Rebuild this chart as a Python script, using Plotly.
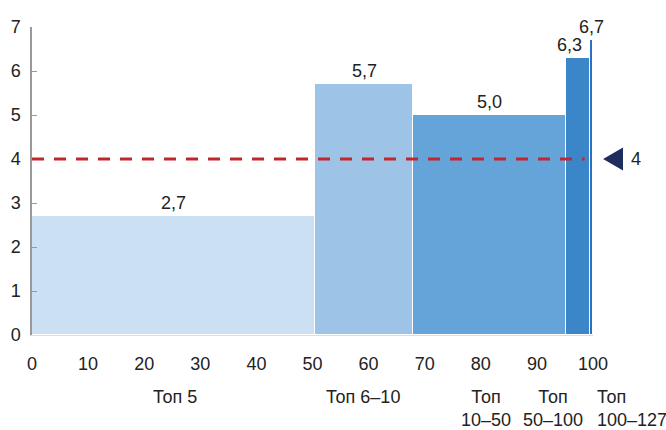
import plotly.graph_objects as go

# Share boundaries on the x axis (cumulative %) and values for each group
edges = [0, 50.4, 68, 95.1, 99.5, 100]
values = [2.7, 5.7, 5.0, 6.3, 6.7]
groups = ["Топ 5", "Топ 6–10", "Топ<br>10–50", "Топ<br>50–100", "Топ<br>100–127"]
group_label_x = [25.5, 59, 81, 92.9, 100.4]
group_label_anchor = ["center", "center", "center", "center", "left"]
value_label_xshift = [0, 0, 0, -8, 0]
colors = ["#cce0f4", "#9dc3e6", "#65a4d9", "#3a86c8", "#2a72bf"]
threshold = 4
x_ticks = [0, 10, 20, 30, 40, 50, 60, 70, 80, 90, 100]
y_ticks = [0, 1, 2, 3, 4, 5, 6, 7]

X_MAX = 100
centers = [(a + b) / 2 for a, b in zip(edges[:-1], edges[1:])]
widths = [b - a for a, b in zip(edges[:-1], edges[1:])]

font_family = "Liberation Sans, Arial, sans-serif"
text_color = "#222222"
label_font = dict(size=18, color=text_color, family=font_family)

fig = go.Figure()
fig.add_trace(go.Bar(
    x=centers, y=values, width=widths,
    marker=dict(color=colors, line=dict(color="white", width=1)),
    hoverinfo="skip",
))

# Value labels above each bar (comma as decimal separator)
for cx, v, dx in zip(centers, values, value_label_xshift):
    fig.add_annotation(x=cx, y=v, text=f"{v:.1f}".replace(".", ","),
                       showarrow=False, xanchor="center", yanchor="bottom",
                       yshift=1, xshift=dx, font=label_font)

# Threshold line
fig.add_shape(type="line", x0=0, x1=98.5, y0=threshold, y1=threshold,
              line=dict(color="#c1272d", width=3, dash="12px,10px"))

# Threshold marker (left-pointing triangle right of the plot) and its label
tip, base, half_h = 1.018, 1.0535, 0.26
fig.add_shape(type="path", xref="paper", yref="y",
              path=(f"M {tip} {threshold} L {base} {threshold + half_h} "
                    f"L {base} {threshold - half_h} Z"),
              fillcolor="#1c2d5e", line=dict(width=0))
fig.add_annotation(x=1.077, xref="paper", y=threshold, yref="y",
                   text=str(threshold), showarrow=False, xanchor="center",
                   font=label_font)

# Group labels under the axis
for gx, name, anchor in zip(group_label_x, groups, group_label_anchor):
    fig.add_annotation(x=gx / X_MAX, xref="paper", y=0, yref="y", text=name,
                       showarrow=False, xanchor=anchor, yanchor="top",
                       yshift=-50, align=anchor, font=label_font)

fig.update_layout(
    width=666, height=430,
    margin=dict(l=32, r=73, t=27, b=95),
    plot_bgcolor="white", paper_bgcolor="white",
    showlegend=False, bargap=0,
    font=dict(family=font_family, size=18, color=text_color),
    xaxis=dict(range=[0, X_MAX], tickvals=x_ticks, ticks="", showgrid=False,
               zeroline=False, showline=True, linecolor="#dddddd", linewidth=1,
               tickfont=dict(size=18), ticklabelstandoff=12),
    yaxis=dict(range=[0, 7], tickvals=y_ticks, ticks="inside", ticklen=5,
               tickcolor="#999999", showgrid=False, zeroline=False,
               showline=True, linecolor="#999999", linewidth=1.5,
               tickfont=dict(size=18), ticklabelstandoff=6),
)

fig.write_html("out.html")
